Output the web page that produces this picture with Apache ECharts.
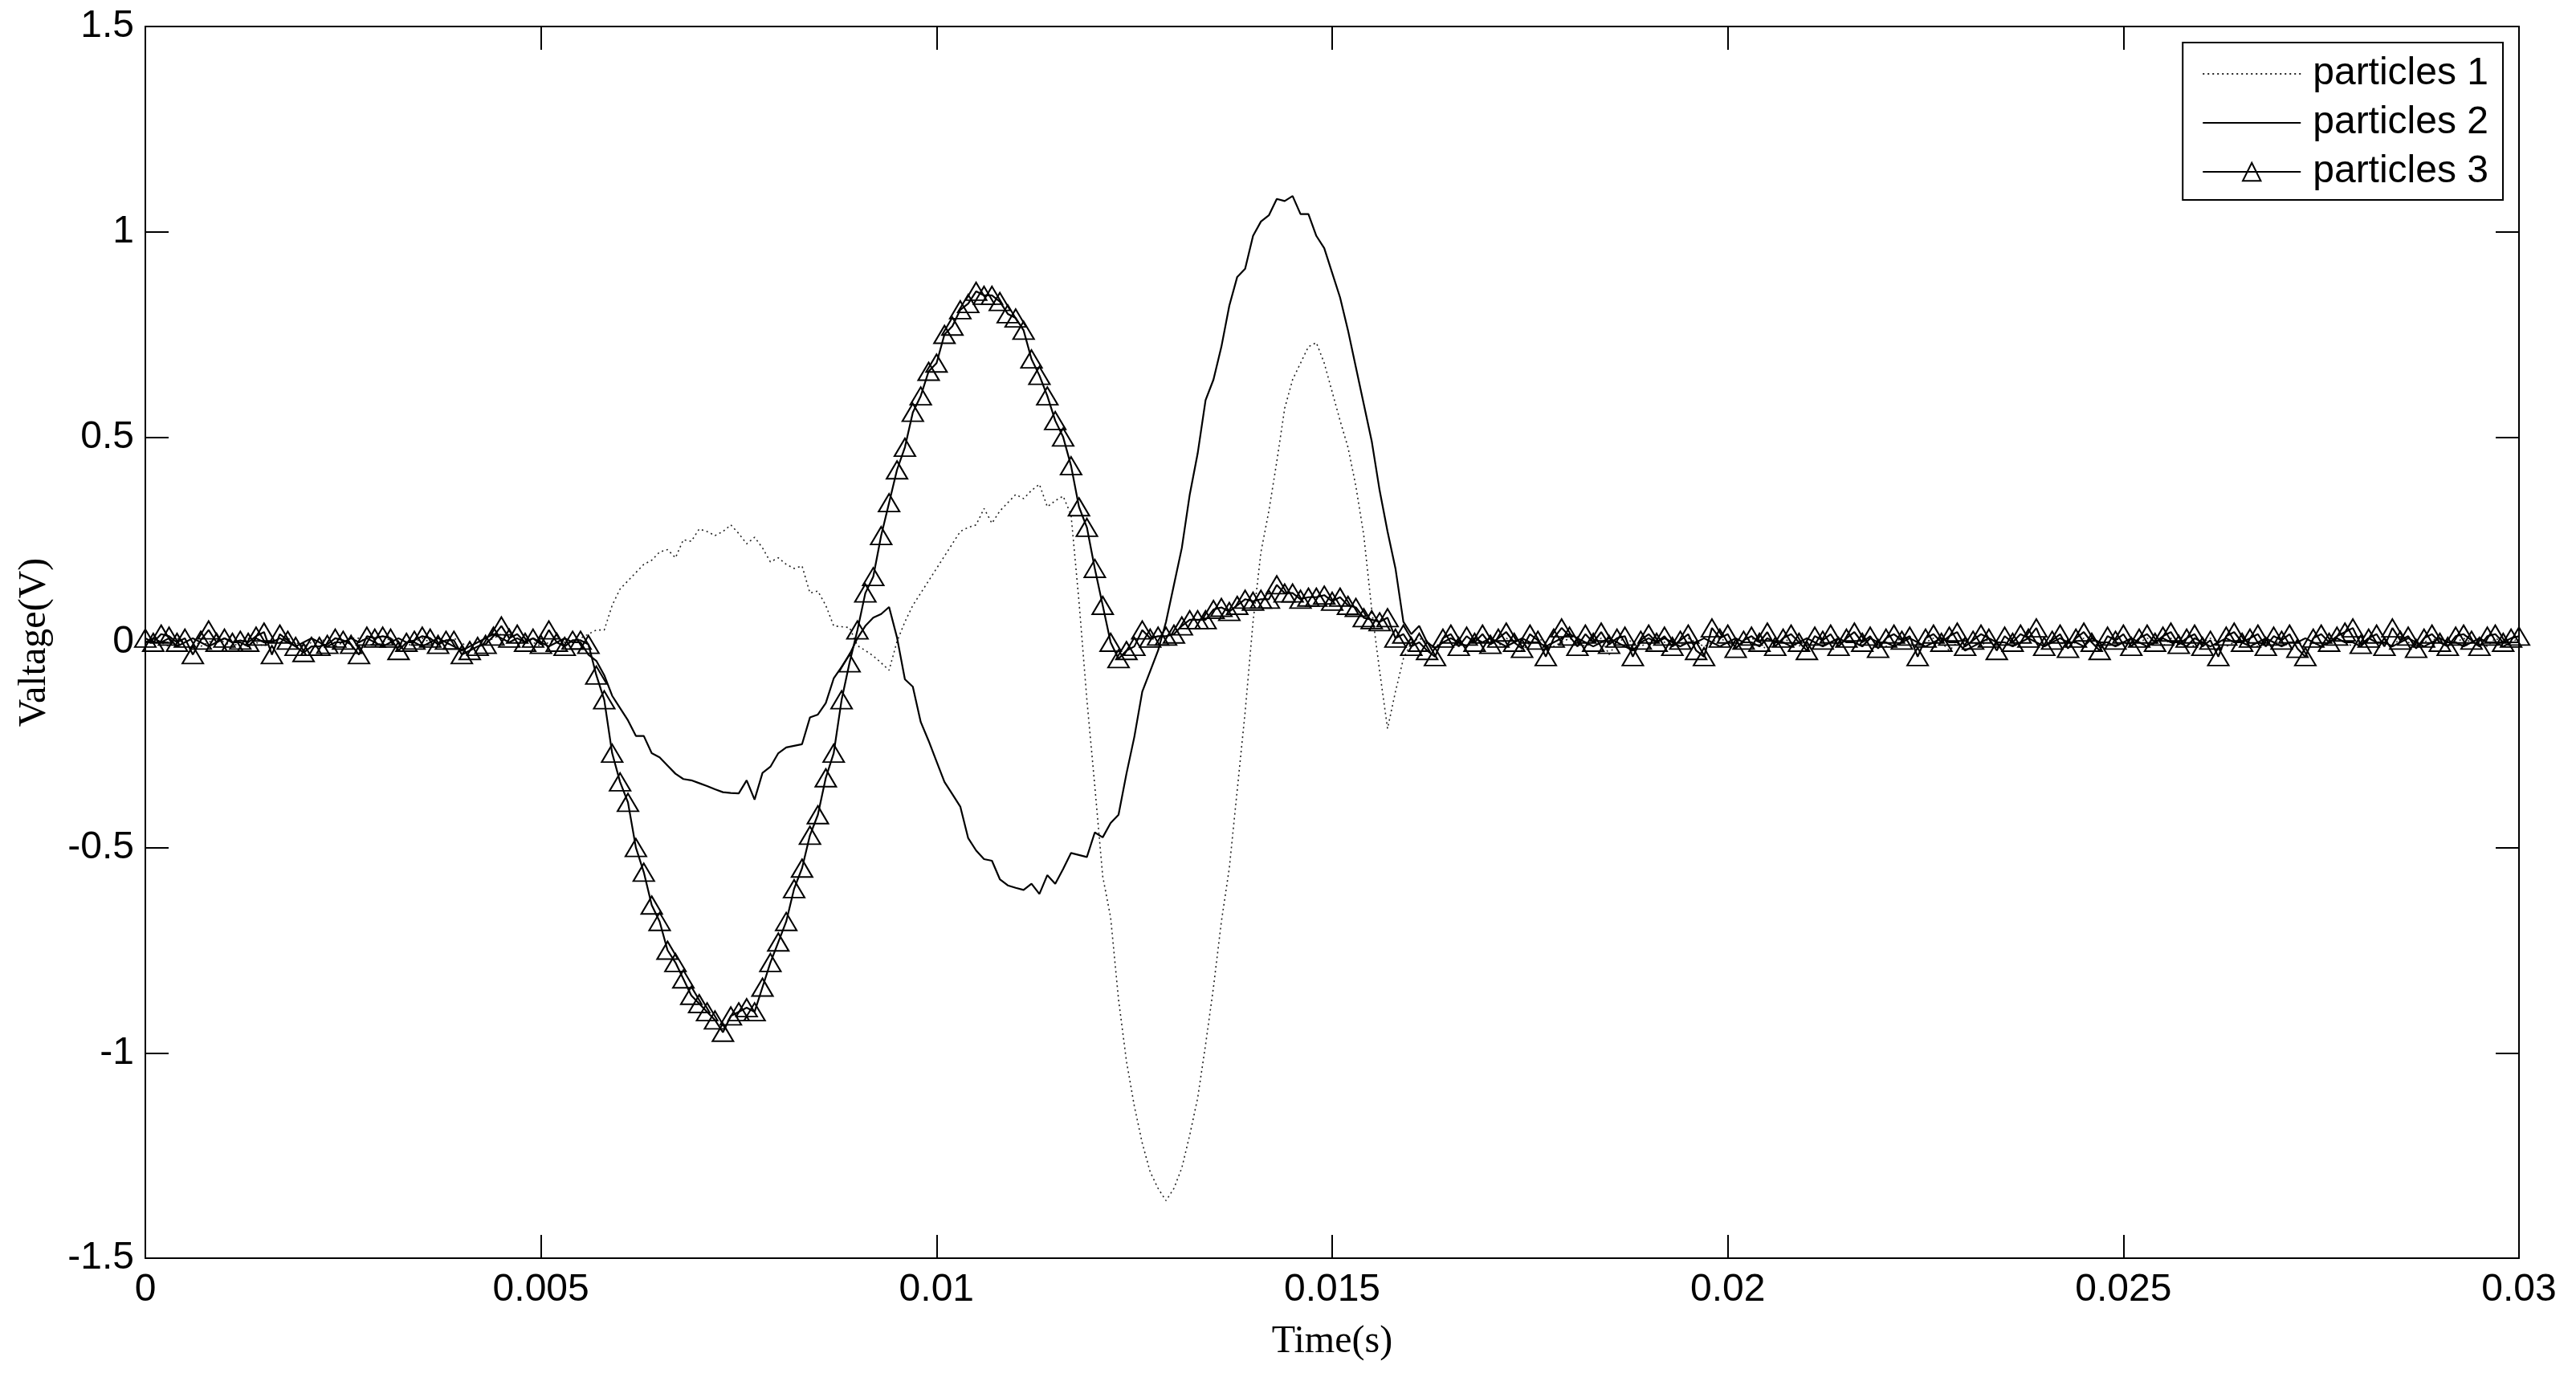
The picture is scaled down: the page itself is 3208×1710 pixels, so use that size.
<!DOCTYPE html>
<html>
<head>
<meta charset="utf-8">
<title>particles</title>
<script src="https://cdn.jsdelivr.net/npm/echarts/dist/echarts.min.js"></script>
<style>
    html, body {margin: 0; padding: 0; background: #fff;}
    #main {width: 3208px; height: 1710px;}
</style>
</head>
<body>
<div id="main"></div>
<script>
// sampling step of the recording (s), 301 samples from 0 to 0.03
const dt = 0.0001

const xTicks = [0, 0.005, 0.01, 0.015, 0.02, 0.025, 0.03]
const yTicks = [-1.5, -1, -0.5, 0, 0.5, 1, 1.5]
const names = ['particles 1', 'particles 2', 'particles 3']

const particles1 = [
    0.00, 0.01, 0.00, -0.01, 0.01, 0.00, 0.01, -0.01, 0.00, 0.01,
    0.00, -0.01, 0.00, 0.01, 0.00, -0.01, 0.01, 0.00, 0.01, 0.00,
    -0.01, 0.00, 0.01, 0.00, -0.01, 0.00, 0.01, 0.01, 0.00, -0.01,
    0.00, 0.01, 0.00, -0.01, 0.00, 0.01, 0.00, 0.00, -0.01, 0.01,
    0.00, -0.02, -0.01, 0.00, 0.01, 0.02, 0.01, 0.00, 0.01, 0.00,
    -0.01, 0.00, 0.01, 0.00, 0.00, 0.01,
    0.02, 0.03, 0.03, 0.09, 0.13, 0.15, 0.17, 0.19, 0.20, 0.22,
    0.226, 0.206, 0.25, 0.246, 0.276, 0.27, 0.26, 0.27, 0.286, 0.265,
    0.24, 0.256, 0.23, 0.196, 0.206, 0.19, 0.18, 0.186, 0.12, 0.125,
    0.09, 0.04, 0.038, 0.036, -0.008, -0.02, -0.033, -0.05, -0.068, 0.002,
    0.05, 0.09, 0.12, 0.15, 0.18, 0.21, 0.24, 0.27, 0.28, 0.286,
    0.326, 0.29, 0.32, 0.34, 0.36, 0.35, 0.37, 0.385, 0.33, 0.345,
    0.356, 0.31, 0.10, -0.14, -0.35, -0.57, -0.67, -0.87, -1.02, -1.13,
    -1.22, -1.29, -1.33, -1.36, -1.33, -1.28, -1.20, -1.11, -0.98, -0.84,
    -0.68, -0.55, -0.36, -0.17, 0.05, 0.22, 0.32, 0.44, 0.57, 0.64,
    0.68, 0.72, 0.73, 0.68, 0.61, 0.54, 0.475, 0.38, 0.26, 0.08,
    -0.07, -0.21, -0.12, -0.04, 0.00,
    0.01, 0.00, -0.01, 0.00, 0.01, 0.00, -0.01, 0.01, 0.00, 0.00,
    -0.01, 0.01, 0.00, -0.02, 0.00, 0.01, 0.00, -0.01, 0.00, 0.01,
    0.00, -0.01, 0.00, 0.01, -0.03, 0.00, 0.01, 0.00, -0.01, 0.00,
    0.01, 0.00, 0.00, -0.01, 0.01, 0.00, -0.01, 0.00, 0.01, 0.00,
    -0.01, 0.00, 0.01, 0.00, -0.02, 0.00, 0.01, 0.00, -0.01, 0.01,
    0.00, -0.01, 0.00, 0.01, 0.00, 0.00, -0.01, 0.01, 0.00, -0.01,
    0.00, 0.01, 0.00, -0.01, 0.00, 0.01, 0.00, -0.02, 0.00, 0.01,
    0.00, -0.01, 0.01, 0.00, 0.00, -0.01, 0.00, 0.01, 0.00, -0.01,
    0.01, 0.00, -0.01, 0.00, 0.01, 0.00, -0.01, 0.00, 0.01, 0.00,
    -0.01, 0.00, 0.01, 0.00, -0.01, 0.01, 0.00, 0.00, -0.01, 0.00,
    0.01, 0.00, -0.01, 0.00, 0.01, 0.00, -0.01, 0.01, 0.00, 0.00,
    -0.01, 0.00, 0.01, 0.00, -0.01, 0.00, 0.01, 0.00, -0.01, 0.00,
    0.01, 0.00, 0.00, -0.01, 0.01, 0.00, -0.01, 0.00, 0.01, 0.00,
    -0.01, 0.00, 0.01, 0.00, 0.00, -0.01, 0.01, 0.00, 0.00, 0.01
]

const particles2 = [
    0.00, 0.01, 0.00, 0.01, -0.01, 0.00, 0.01, 0.00, -0.01, 0.00,
    0.01, 0.00, 0.00, -0.01, 0.01, 0.00, 0.00, 0.01, 0.00, -0.01,
    0.00, 0.01, 0.00, -0.01, 0.00, 0.00, 0.01, 0.00, 0.01, 0.00,
    -0.01, 0.00, 0.01, 0.00, 0.00, -0.01, 0.00, 0.01, 0.00, -0.01,
    -0.02, -0.01, 0.00, 0.01, 0.02, 0.01, 0.00, 0.01, 0.00, 0.01,
    0.00, -0.01, 0.00, 0.01, 0.00, 0.00,
    -0.03, -0.045, -0.08, -0.13, -0.16, -0.19, -0.228, -0.228, -0.27, -0.28,
    -0.30, -0.32, -0.333, -0.336, -0.343, -0.35, -0.358, -0.365, -0.367, -0.368,
    -0.336, -0.383, -0.318, -0.303, -0.27, -0.256, -0.252, -0.248, -0.183, -0.176,
    -0.148, -0.088, -0.06, -0.03, 0.01, 0.04, 0.06, 0.069, 0.086, 0.012,
    -0.09, -0.108, -0.194, -0.24, -0.29, -0.34, -0.37, -0.40, -0.477, -0.507,
    -0.528, -0.532, -0.577, -0.592, -0.598, -0.603, -0.588, -0.613, -0.567, -0.588,
    -0.552, -0.513, -0.518, -0.523, -0.463, -0.475, -0.44, -0.42, -0.32, -0.23,
    -0.12, -0.07, -0.02, 0.05, 0.14, 0.23, 0.36, 0.46, 0.59, 0.64,
    0.72, 0.82, 0.89, 0.91, 0.99, 1.025, 1.04, 1.08, 1.075, 1.087,
    1.043, 1.043, 0.99, 0.96, 0.90, 0.84, 0.76, 0.67, 0.58, 0.49,
    0.37, 0.27, 0.18, 0.05, 0.02, 0.04, 0.00, -0.014,
    0.00, 0.01, 0.00, -0.01, 0.01, 0.00, 0.01, 0.00, -0.01, 0.00,
    0.01, 0.00, 0.00, -0.01, 0.00, 0.01, 0.02, 0.01, 0.00, -0.01,
    0.00, 0.01, 0.00, -0.01, -0.02, 0.00, 0.01, 0.00, 0.01, 0.00,
    -0.01, 0.00, 0.00, 0.01, 0.00, -0.01, 0.00, 0.01, 0.00, 0.00,
    -0.01, 0.01, 0.00, 0.00, -0.01, 0.00, 0.01, 0.00, -0.01, 0.00,
    0.01, 0.00, 0.00, -0.01, 0.01, 0.00, 0.00, -0.01, 0.00, 0.01,
    0.00, -0.01, 0.00, 0.01, 0.00, 0.00, -0.02, -0.01, 0.00, 0.01,
    0.00, 0.00, -0.01, 0.00, 0.01, 0.00, -0.01, 0.00, 0.01, 0.00,
    0.00, -0.01, 0.01, 0.00, 0.00, -0.01, 0.00, 0.01, 0.00, -0.01,
    0.00, 0.01, 0.00, 0.00, -0.01, 0.01, 0.00, -0.01, 0.00, 0.01,
    0.00, 0.00, -0.01, 0.00, 0.01, 0.00, -0.01, 0.00, 0.00, 0.01,
    0.00, -0.01, 0.00, 0.01, 0.00, 0.00, -0.01, 0.01, 0.00, 0.00,
    -0.01, 0.00, 0.01, 0.00, -0.01, 0.00, 0.01, 0.00, 0.00, -0.01,
    0.00, 0.01, 0.00, 0.00, -0.01, 0.00, 0.00
]

const particles3 = [
    0.01, 0.00, 0.02, 0.015, 0.00, 0.01, -0.03, 0.005, 0.03, 0.00,
    0.01, 0.00, 0.005, 0.00, 0.015, 0.025, -0.03, 0.02, 0.005, -0.01,
    -0.025, -0.01, -0.01, -0.005, 0.01, 0.005, -0.005, -0.03, 0.015, 0.01,
    0.015, 0.01, -0.02, 0.00, 0.005, 0.015, 0.01, -0.005, 0.005, 0.005,
    -0.03, -0.02, -0.01, -0.005, 0.015, 0.04, 0.01, 0.02, 0.00, 0.01,
    -0.005, 0.03, 0.00, -0.01, 0.005, 0.005, -0.005,
    -0.08, -0.14, -0.27, -0.34, -0.39, -0.50, -0.56, -0.64, -0.68, -0.75,
    -0.78, -0.82, -0.86, -0.88, -0.90, -0.92, -0.95, -0.91, -0.90, -0.89,
    -0.90, -0.84, -0.78, -0.73, -0.68, -0.60, -0.55, -0.47, -0.42, -0.33,
    -0.27, -0.14, -0.05, 0.03, 0.12, 0.16, 0.26, 0.34, 0.42, 0.475,
    0.56, 0.60, 0.66, 0.68, 0.75, 0.77, 0.81, 0.825, 0.855, 0.845,
    0.845, 0.83, 0.80, 0.79, 0.76, 0.69, 0.65, 0.60, 0.54, 0.50,
    0.43, 0.33, 0.28, 0.18, 0.09, 0.00, -0.04, -0.02, -0.01, 0.03,
    0.01, 0.015, 0.015, 0.02, 0.04, 0.055, 0.055, 0.055, 0.08, 0.085,
    0.075, 0.09, 0.105, 0.10, 0.105, 0.105, 0.14, 0.12, 0.12, 0.105,
    0.11, 0.11, 0.115, 0.10, 0.11, 0.09, 0.085, 0.06, 0.055, 0.05,
    0.06, 0.01, 0.02, -0.01, 0.00, -0.02,
    -0.035, 0.01, 0.02, -0.01, 0.015, 0.00, 0.02, -0.005, 0.01, 0.025,
    0.00, -0.015, 0.02, 0.005, -0.035, 0.01, 0.035, 0.015, -0.01, 0.02,
    0.00, 0.025, -0.005, 0.01, 0.015, -0.035, 0.005, 0.02, 0.00, 0.015,
    -0.01, 0.005, 0.02, -0.02, -0.035, 0.035, 0.01, 0.02, -0.015, 0.005,
    0.015, 0.00, 0.025, -0.01, 0.01, 0.02, 0.00, -0.02, 0.015, 0.005,
    0.02, -0.01, 0.01, 0.025, 0.00, 0.015, -0.015, 0.01, 0.02, 0.005,
    0.015, -0.035, 0.01, 0.02, 0.00, 0.015, 0.025, -0.01, 0.005, 0.02,
    0.01, -0.02, 0.015, 0.00, 0.02, 0.01, 0.035, -0.01, 0.005, 0.02,
    -0.015, 0.01, 0.025, 0.00, -0.02, 0.015, 0.005, 0.02, -0.01, 0.01,
    0.02, 0.00, 0.015, 0.025, -0.005, 0.01, 0.02, -0.01, 0.005, -0.035,
    0.015, 0.025, 0.00, 0.01, 0.02, -0.01, 0.015, 0.005, 0.02, -0.015,
    -0.035, 0.01, 0.02, 0.00, 0.015, 0.025, 0.035, -0.005, 0.01, 0.02,
    -0.01, 0.035, 0.005, 0.015, -0.015, 0.01, 0.02, 0.00, -0.01, 0.015,
    0.02, 0.005, -0.01, 0.015, 0.02, 0.00, 0.01, 0.015
]

function pairs(values) {
    return values.map((v, i) => [+(i * dt).toFixed(4), v])
}

function tickText(v) {
    return String(parseFloat(v.toFixed(6)))
}

let chart = echarts.init(document.getElementById('main'))

let sansFont = "'Liberation Sans', Arial, sans-serif"
let serifFont = "'Liberation Serif', 'Times New Roman', serif"

let xBase = {
    type: 'value',
    min: xTicks[0],
    max: xTicks[xTicks.length - 1],
    interval: xTicks[1] - xTicks[0],
    axisLine: {show: true, onZero: false, lineStyle: {color: '#000', width: 2}},
    axisTick: {show: true, inside: true, length: 29, lineStyle: {color: '#000', width: 2}},
    splitLine: {show: false}
}
let yBase = {
    type: 'value',
    min: yTicks[0],
    max: yTicks[yTicks.length - 1],
    interval: yTicks[1] - yTicks[0],
    axisLine: {show: true, onZero: false, lineStyle: {color: '#000', width: 2}},
    axisTick: {show: true, inside: true, length: 29, lineStyle: {color: '#000', width: 2}},
    splitLine: {show: false}
}

let option = {
    animation: false,
    backgroundColor: '#fff',
    grid: {left: 181, top: 33, right: 71, bottom: 143, containLabel: false},
    legend: {
        // plain lines carry no marker in the legend
        data: [
            {name: names[0], itemStyle: {opacity: 0}},
            {name: names[1], itemStyle: {opacity: 0}},
            {name: names[2]}
        ],
        right: 91,
        top: 53,
        orient: 'vertical',
        align: 'left',
        backgroundColor: '#fff',
        borderColor: '#000',
        borderWidth: 2,
        borderRadius: 0,
        padding: [10, 18, 6, 24],
        itemWidth: 122,
        itemHeight: 28,
        itemGap: 3,
        selectedMode: false,
        textStyle: {fontFamily: sansFont, fontSize: 48, color: '#000', lineHeight: 58, padding: [0, 0, 0, 10]}
    },
    xAxis: [
        Object.assign({}, xBase, {
            position: 'bottom',
            name: 'Time(s)',
            nameLocation: 'middle',
            nameGap: 80,
            nameTextStyle: {fontFamily: serifFont, fontSize: 48, color: '#000'},
            axisLabel: {show: true, margin: 16, color: '#000', fontFamily: sansFont, fontSize: 48, formatter: tickText}
        }),
        Object.assign({}, xBase, {position: 'top', axisLabel: {show: false}})
    ],
    yAxis: [
        Object.assign({}, yBase, {
            position: 'left',
            name: 'Valtage(V)',
            nameLocation: 'middle',
            nameGap: 114,
            nameTextStyle: {fontFamily: serifFont, fontSize: 48, color: '#000'},
            axisLabel: {show: true, margin: 14, color: '#000', fontFamily: sansFont, fontSize: 48, formatter: tickText}
        }),
        Object.assign({}, yBase, {position: 'right', axisLabel: {show: false}})
    ],
    series: [
        {
            name: names[0],
            type: 'line',
            data: pairs(particles1),
            showSymbol: false,
            symbol: 'none',
            silent: true,
            itemStyle: {color: '#222'},
            lineStyle: {color: '#222', width: 1.6, type: [2, 4]}
        },
        {
            name: names[1],
            type: 'line',
            data: pairs(particles2),
            showSymbol: false,
            symbol: 'none',
            silent: true,
            itemStyle: {color: '#000'},
            lineStyle: {color: '#000', width: 2.2}
        },
        {
            name: names[2],
            type: 'line',
            data: pairs(particles3),
            symbol: 'triangle',
            symbolSize: [26, 22],
            showSymbol: true,
            showAllSymbol: true,
            silent: true,
            itemStyle: {color: 'rgba(0,0,0,0)', borderColor: '#000', borderWidth: 2},
            lineStyle: {color: '#000', width: 2.2}
        }
    ]
}
chart.setOption(option)
</script>
</body>
</html>
